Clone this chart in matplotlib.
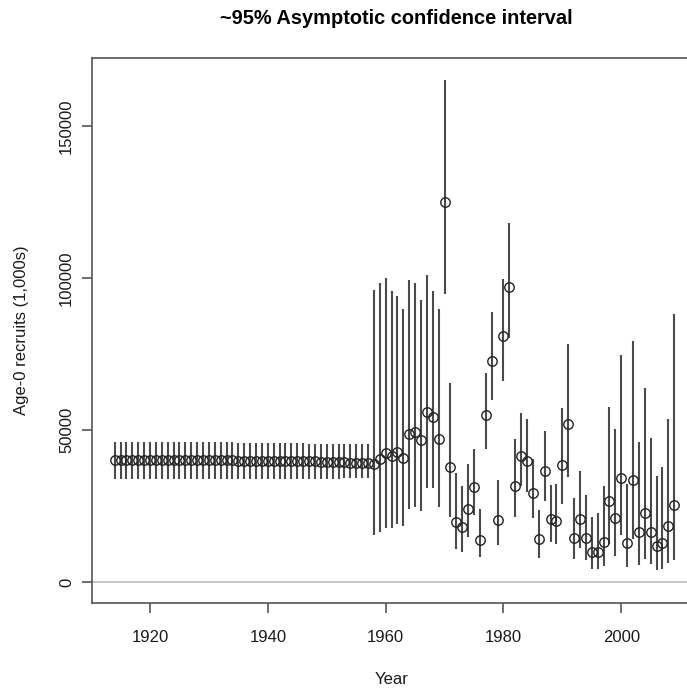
import matplotlib.pyplot as plt
import numpy as np

plt.rcParams['font.family'] = ['Liberation Sans', 'DejaVu Sans']

years = list(range(1914, 2010))

# estimates (1,000s) - flat prior period 1914-1957, then model years
recruits = [40000, 40000, 40000, 40000, 40000, 40000, 40000, 40000, 40000, 40000,
            40000, 40000, 40000, 40000, 40000, 40000, 40000, 40000, 40000, 40000,
            40000, 39900, 39900, 39900, 39900, 39900, 39900, 39900, 39800, 39800,
            39800, 39800, 39700, 39700, 39700, 39600, 39600, 39500, 39400, 39400,
            39300, 39300, 39200, 39200,
            38800, 40600, 42300, 41400, 42900, 40800, 48800, 49400, 46800, 55800,
            54400, 47000, 125000, 37700, 19800, 18000, 24000, 31200, 13900, 55000,
            72800, 20400, 81000, 97000, 31700, 41600, 39900, 29300, 14100, 36600,
            20700, 20100, 38600, 52000, 14600, 20700, 14400, 9900, 9900, 13300,
            26500, 20900, 34100, 13000, 33700, 16500, 22600, 16300, 11900, 13000,
            18300, 25400]

ci_upper = [46000, 46000, 46000, 46000, 46000, 46000, 46000, 46000, 46000, 46000,
            46000, 46000, 46000, 46000, 46000, 46000, 46000, 46000, 46000, 46000,
            46000, 45900, 45900, 45900, 45900, 45900, 45800, 45800, 45700, 45700,
            45700, 45600, 45600, 45500, 45500, 45500, 45400, 45400, 45400, 45300,
            45300, 45300, 45300, 45300,
            96200, 98500, 99900, 95900, 94000, 89700, 99400, 98300, 92700, 100900,
            95900, 89700, 165200, 65400, 35900, 31600, 38800, 43900, 23900, 68900,
            88800, 33600, 99800, 118200, 46900, 55500, 53500, 40500, 23700, 49800,
            31900, 32200, 57300, 78200, 27500, 36600, 28600, 21500, 22700, 31500,
            57500, 50200, 74800, 32200, 79200, 46200, 63900, 47400, 35000, 38000,
            53700, 88300]

ci_lower = [34000, 34000, 34000, 34000, 34000, 34000, 34000, 34000, 34000, 34000,
            34000, 34000, 34000, 34000, 34000, 34000, 34000, 34000, 34000, 34000,
            34000, 34000, 34000, 34000, 34000, 34000, 34000, 34000, 34000, 34000,
            34000, 34000, 34000, 34000, 34000, 34000, 34000, 34000, 34000, 34100,
            34100, 34100, 34200, 34200,
            15400, 16600, 17800, 17800, 19200, 18400, 23900, 24800, 23400, 30900,
            30900, 24600, 94800, 21500, 10800, 9800, 14900, 21900, 8200, 43900,
            59900, 12200, 66000, 80300, 21500, 31700, 29700, 20900, 8000, 26700,
            13300, 12400, 25600, 34400, 7500, 11300, 7300, 4200, 4200, 5300,
            12400, 8600, 15400, 5000, 14100, 5600, 7700, 5800, 4000, 4200,
            6400, 7200]

W, H = 687, 691
fig = plt.figure(figsize=(W / 100, H / 100), dpi=100)
ax = fig.add_axes([92 / W, 1 - 603 / H, 1 - 92 / W + 0.002, (603 - 58) / H])

ax.axhline(0, color='#bbbbbb', linewidth=1.2, zorder=0)
ax.vlines(years, ci_lower, ci_upper, color='#4a4a4a', linewidth=1.5)
ax.plot(years, recruits, 'o', markersize=6.8, markerfacecolor='none',
        markeredgecolor='#222222', markeredgewidth=1.0)

ax.set_xlim(1910.15, 2011.4)
ax.set_ylim(-6900, 172400)
ax.set_xticks([1920, 1940, 1960, 1980, 2000])
ax.set_yticks([0, 50000, 100000, 150000])
ax.set_yticklabels(['0', '50000', '100000', '150000'], rotation=90, va='center')

for side in ['top', 'left', 'bottom']:
    ax.spines[side].set_color('#555555')
    ax.spines[side].set_linewidth(1.2)
ax.spines['right'].set_visible(False)
ax.tick_params(length=7, width=1.2, color='#555555', labelsize=12,
               labelcolor='#1a1a1a')
ax.tick_params(axis='x', pad=12.5)
ax.tick_params(axis='y', pad=6)

fig.text(392 / W, 1 - 680 / H, 'Year', ha='center', va='center',
         fontsize=12, color='#1a1a1a')
fig.text(22 / W, 1 - 330.5 / H, 'Age-0 recruits (1,000s)', ha='center',
         va='center', rotation=90, fontsize=12, color='#1a1a1a')
fig.text(396 / W, 1 - 24 / H, '~95% Asymptotic confidence interval',
         ha='center', va='baseline', fontsize=14.4, fontweight='bold')

fig.savefig('out.png', dpi=100)
